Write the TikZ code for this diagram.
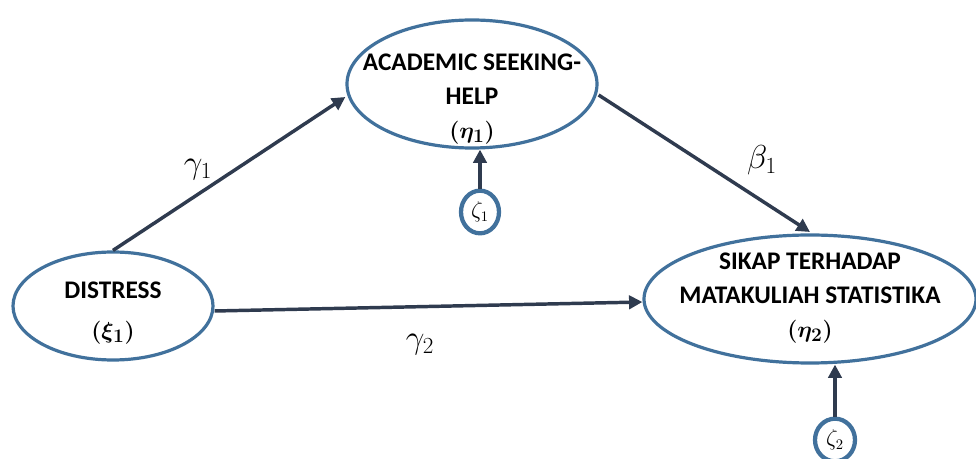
\documentclass[tikz,border=0pt]{standalone}
\usepackage{fontspec}
\usepackage{amsmath,bm}
\setmainfont{Carlito}
\usetikzlibrary{shapes.geometric,arrows.meta}
\definecolor{rimblue}{HTML}{41719C}
\definecolor{arrowdark}{HTML}{2F3B4F}
\tikzset{
  latent/.style={ellipse, draw=rimblue, line width=2.4pt, fill=white, inner sep=0pt},
  lbl/.style={align=center, inner sep=0pt, font=\fontsize{19}{25.5}\selectfont\bfseries},
  errc/.style={ellipse, draw=rimblue, line width=3.2pt, fill=white, inner sep=0pt, minimum width=28.5pt, minimum height=32pt,
    font=\fontsize{16}{18}\selectfont},
  path/.style={draw=arrowdark, line width=2.6pt, -{Triangle[length=10pt,width=10pt]}},
  coef/.style={font=\fontsize{25}{28}\selectfont}
}
\begin{document}
\begin{tikzpicture}[x=0.75pt,y=-0.75pt]
\useasboundingbox (0,0) rectangle (976,459);
\node[latent, minimum width=187.5pt, minimum height=96pt] (acad) at (472,84) {};
\node[latent, minimum width=150pt, minimum height=81pt] (dist) at (113,306) {};
\node[latent, minimum width=249pt, minimum height=96pt] (sikap) at (810,299) {};
\node[lbl] (acadt) at (472,99)
  {ACADEMIC SEEKING-\\HELP\\{\mdseries$\boldsymbol{(\eta_{1})}$}};
\node[lbl] (distt) at (113,313)
  {DISTRESS\\[4pt]{\mdseries$\boldsymbol{(\xi_{1})}$}};
\node[lbl] (sikapt) at (810,298)
  {SIKAP TERHADAP\\MATAKULIAH STATISTIKA\\{\mdseries$\boldsymbol{(\eta_{2})}$}};
\node[errc] (z1) at (480,212) {$\zeta_1$};
\node[errc, minimum width=30pt] (z2) at (835,440) {$\zeta_2$};

\draw[path] (dist.north) -- (acad.west |- 0,97);
\draw[path] (acad.east |- 0,95) -- (sikap.north |- 0,232);
\draw[path] (dist.east |- 0,311) -- (sikap.west |- 0,302);
\draw[path] (z1.north) -- (z1.north |- acad.south);
\draw[path] (z2.north) -- (z2.north |- sikap.south);

\node[coef] (g1) at (198,170) {$\gamma_1$};
\node[coef] (b1) at (762,160) {$\beta_1$};
\node[coef] (g2) at (420,345) {$\gamma_2$};
\end{tikzpicture}
\end{document}
